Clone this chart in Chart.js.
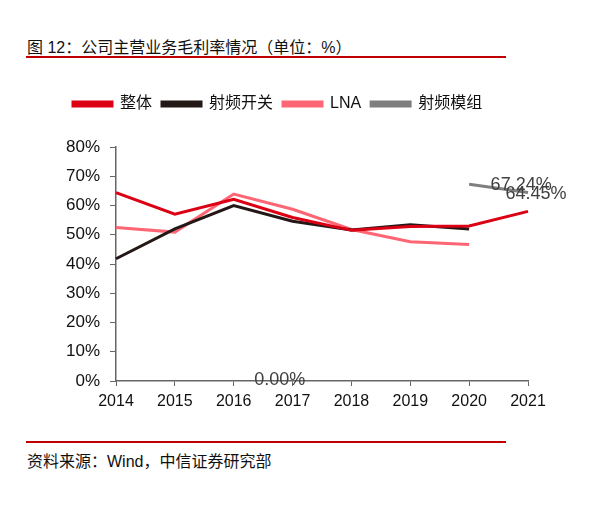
<!DOCTYPE html>
<html>
<head>
<meta charset="utf-8">
<script src="https://cdn.jsdelivr.net/npm/chart.js@4/dist/chart.umd.min.js"></script>
<style>
  body { margin: 0; width: 614px; height: 510px; background: #fff; position: relative; overflow: hidden;
         font-family: "Liberation Sans", "Noto Sans CJK SC", sans-serif; }
  .title { position: absolute; left: 27px; top: 34px; font-size: 16px; color: #111; white-space: nowrap; }
  .rule { position: absolute; left: 26px; width: 480px; height: 2px; background: #C00000; }
  .source { position: absolute; left: 27px; top: 448px; font-size: 16px; color: #111; white-space: nowrap; }
  #wrap { position: absolute; left: 0; top: 70px; width: 600px; height: 360px; }
</style>
</head>
<body>
<div class="title">图 12：公司主营业务毛利率情况（单位：%）</div>
<div class="rule" style="top:56px"></div>
<div id="wrap"><canvas id="marginChart"></canvas></div>
<div class="rule" style="top:441px"></div>
<div class="source">资料来源：Wind，中信证券研究部</div>
<script>
// 毛利率 (%)
const years = ['2014', '2015', '2016', '2017', '2018', '2019', '2020', '2021'];
const overall = [64.4, 57.0, 62.1, 55.9, 51.5, 52.8, 53.0, 58.0];
const rfSwitch = [41.8, 52.0, 60.0, 54.6, 51.6, 53.4, 52.0, null];
const lna = [52.5, 50.9, 63.9, 58.7, 51.8, 47.6, 46.7, null];
const rfModule = [null, null, null, null, null, null, 67.24, 64.45];
const yTicks = [0, 10, 20, 30, 40, 50, 60, 70, 80];

// stray labels visible in the source picture
const moduleLabels = ['67.24%', '64.45%'];
const zeroLabel = '0.00%';

const labelPlugin = {
    id: 'pointLabels',
    afterDatasetsDraw(chart) {
        const { ctx, scales: { x, y } } = chart;
        ctx.save();
        ctx.font = '18px "Liberation Sans", sans-serif';
        ctx.fillStyle = '#404040';
        ctx.textAlign = 'center';
        ctx.textBaseline = 'middle';
        ctx.fillText(moduleLabels[0], x.getPixelForValue(6) + 52, y.getPixelForValue(rfModule[6]) + 1);
        ctx.fillText(moduleLabels[1], x.getPixelForValue(7) + 8, y.getPixelForValue(rfModule[7]) + 2);
        ctx.fillText(zeroLabel, x.getPixelForValue(2) + 46, y.getPixelForValue(0) - 1);
        ctx.restore();
    }
};

// push the plot area down below the legend
const legendGap = {
    id: 'legendGap',
    beforeInit(chart) {
        const fit = chart.legend.fit;
        chart.legend.fit = function () { fit.call(this); this.height += 25; };
    }
};

const lineDs = (label, data, color) => ({
    label, data, borderColor: color, backgroundColor: color,
    borderWidth: 3, pointRadius: 0, tension: 0, spanGaps: false
});

new Chart(document.getElementById('marginChart'), {
    type: 'line',
    data: {
        labels: years,
        datasets: [
            lineDs('整体', overall, '#DC0015'),
            lineDs('射频开关', rfSwitch, '#231815'),
            lineDs('LNA', lna, '#FF6674'),
            lineDs('射频模组', rfModule, '#7F7F7F'),
        ]
    },
    options: {
        responsive: true, maintainAspectRatio: false, animation: false,
        layout: { padding: { left: 63, right: 72, top: 16, bottom: 0 } },
        plugins: {
            legend: {
                position: 'top', align: 'start',
                labels: {
                    boxWidth: 39, boxHeight: 4, padding: 10, color: '#111',
                    font: { size: 16, family: '"Liberation Sans", "Noto Sans CJK SC", sans-serif' }
                }
            },
            tooltip: { enabled: false }
        },
        scales: {
            x: {
                offset: false,
                grid: { drawOnChartArea: false, drawTicks: true, tickLength: 5, color: '#666' },
                border: { display: true, color: '#666', width: 1.5 },
                ticks: { color: '#111', padding: 6, maxRotation: 0, font: { size: 16, family: '"Liberation Sans", sans-serif' } },
                afterFit(scale) { scale.height = 49; }
            },
            y: {
                min: 0, max: 80,
                afterBuildTicks(scale) { scale.ticks = yTicks.map(v => ({ value: v })); },
                grid: { drawOnChartArea: false, drawTicks: true, tickLength: 6, color: '#666' },
                border: { display: true, color: '#666', width: 1.5 },
                ticks: { color: '#111', padding: 10, callback: v => v + '%', font: { size: 17, family: '"Liberation Sans", sans-serif' } },
                afterFit(scale) { scale.width = 53; }
            }
        }
    },
    plugins: [labelPlugin, legendGap]
});
</script>
</body>
</html>
